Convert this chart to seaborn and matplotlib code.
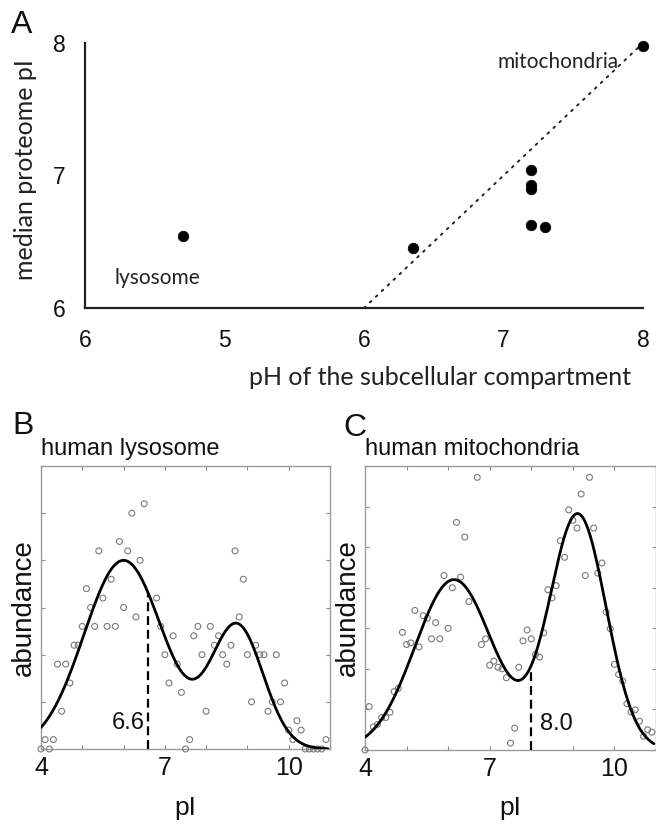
import numpy as np
import pandas as pd
import matplotlib
matplotlib.use("Agg")
import matplotlib.pyplot as plt
import seaborn as sns

sns.set_theme(style="white")
plt.rcParams['font.family'] = ['Liberation Sans', 'DejaVu Sans']

# ---------------- Panel A data ----------------
ph_values = [4.70, 6.35, 7.20, 7.20, 7.20, 7.20, 7.30, 8.00]
median_pi = [6.54, 6.45, 7.04, 6.93, 6.90, 6.63, 6.61, 7.98]
diag_x = [6.0, 8.0]
diag_y = [6.0, 8.0]
a_xticks = [4, 5, 6, 7, 8]
a_xticklabels = ["6", "5", "6", "7", "8"]
a_yticks = [6, 7, 8]
a_yticklabels = ["6", "7", "8"]

# ---------------- Panel B data (human lysosome) ----------------
lyso_pi = [4.0, 4.1, 4.2, 4.3, 4.4, 4.5, 4.6, 4.7, 4.8, 4.9, 5.0, 5.1, 5.2, 5.3,
           5.4, 5.5, 5.6, 5.7, 5.8, 5.9, 6.0, 6.1, 6.2, 6.3, 6.4, 6.5, 6.8, 6.9,
           7.0, 7.1, 7.2, 7.3, 7.4, 7.5, 7.6, 7.7, 7.8, 7.9, 8.0, 8.1, 8.2, 8.3,
           8.4, 8.5, 8.6, 8.7, 8.8, 8.9, 9.0, 9.1, 9.2, 9.3, 9.4, 9.5, 9.6, 9.7,
           9.8, 9.9, 10.0, 10.1, 10.2, 10.3, 10.4, 10.5, 10.6, 10.7, 10.8, 10.9]
lyso_abund = [0.0, 0.2, 0.0, 0.2, 1.8, 0.8, 1.8, 1.4, 2.2, 2.2, 2.6, 3.4, 3.0, 2.6,
              4.2, 3.2, 2.6, 3.6, 2.6, 4.4, 3.0, 4.2, 5.0, 2.8, 4.0, 5.2, 3.2, 2.6,
              2.0, 1.4, 2.4, 1.8, 1.2, 0.0, 0.2, 2.4, 2.6, 2.0, 0.8, 2.6, 2.2, 2.4,
              2.0, 1.8, 2.2, 4.2, 2.8, 3.6, 2.0, 1.0, 2.2, 2.0, 2.0, 0.8, 1.0, 2.0,
              1.0, 1.4, 0.4, 0.2, 0.6, 0.4, 0.0, 0.0, 0.0, 0.0, 0.0, 0.2]
# two-peak fit: centres, heights, widths
lyso_fit_centers = [6.0, 8.75]
lyso_fit_heights = [4.0, 2.6]
lyso_fit_widths = [0.96, 0.63]
lyso_median = 6.6
lyso_label = "6.6"

# ---------------- Panel C data (human mitochondria) ----------------
mito_pi = [4.0, 4.1, 4.2, 4.3, 4.4, 4.5, 4.6, 4.7, 4.8, 4.9, 5.0, 5.1, 5.2, 5.3,
           5.4, 5.5, 5.6, 5.7, 5.8, 5.9, 6.0, 6.1, 6.2, 6.3, 6.4, 6.5, 6.7, 6.8,
           6.9, 7.0, 7.1, 7.2, 7.3, 7.4, 7.5, 7.6, 7.7, 7.8, 7.9, 8.0, 8.1, 8.2,
           8.3, 8.4, 8.5, 8.6, 8.7, 8.8, 8.9, 9.0, 9.1, 9.2, 9.3, 9.4, 9.5, 9.6,
           9.7, 9.8, 9.9, 10.0, 10.1, 10.2, 10.3, 10.4, 10.5, 10.6, 10.7, 10.8, 10.9]
mito_abund = [0.0, 1.07, 0.57, 0.63, 0.80, 0.80, 0.93, 1.44, 1.52, 2.90, 2.60, 2.64,
              3.44, 2.54, 3.31, 3.25, 2.74, 3.14, 2.74, 4.30, 3.00, 4.00, 5.61, 4.26,
              5.25, 3.66, 6.72, 2.60, 2.74, 2.09, 2.19, 2.04, 2.00, 1.78, 0.17, 0.54,
              2.04, 2.69, 2.96, 2.74, 2.35, 2.29, 2.89, 3.95, 3.75, 4.05, 5.16, 4.75,
              5.92, 5.66, 5.47, 6.31, 4.30, 6.72, 5.47, 4.36, 4.61, 3.40, 2.99, 2.11,
              1.86, 1.70, 1.14, 0.94, 0.99, 0.71, 0.34, 0.50, 0.44]
mito_fit_centers = [6.14, 9.12]
mito_fit_heights = [4.2, 5.8]
mito_fit_widths = [0.94, 0.68]
mito_median = 8.0
mito_label = "8.0"

pi_ticks = [4, 5, 6, 7, 8, 9, 10, 11]
pi_ticklabels = ["4", "", "", "7", "", "", "10", ""]

W, H = 656, 825
fig = plt.figure(figsize=(W / 100, H / 100), dpi=100)


def rect(left, top, right, bottom):
    return [left / W, 1 - bottom / H, (right - left) / W, (bottom - top) / H]


def fpos(x, y):
    return x / W, 1 - y / H


calibri_like = ['Lato', 'DejaVu Sans']

# ---------------- Panel A ----------------
axA = fig.add_axes(rect(85, 43, 643, 308))
dfA = pd.DataFrame({"ph": ph_values, "pi": median_pi})
sns.lineplot(x=diag_x, y=diag_y, ax=axA, color="#222222", lw=1.4,
             linestyle=(0, (1, 3.2)), dash_capstyle="round")
sns.scatterplot(data=dfA, x="ph", y="pi", ax=axA, s=58, color="black",
                edgecolor="black", linewidth=0.5, clip_on=False, zorder=5)
axA.set_xlim(4, 8)
axA.set_ylim(6, 8)
for side in ["top", "right"]:
    axA.spines[side].set_visible(False)
for side in ["left", "bottom"]:
    axA.spines[side].set_color("#222222")
    axA.spines[side].set_linewidth(1.6)
axA.set_xticks(a_xticks)
axA.set_xticklabels(a_xticklabels)
axA.set_yticks(a_yticks)
axA.set_yticklabels(a_yticklabels)
axA.tick_params(axis="both", direction="out", length=3, width=1.2,
                color="#222222", labelsize=16.5, labelcolor="#111111")
axA.tick_params(axis="x", pad=12)
axA.tick_params(axis="y", pad=11)
axA.set_xlabel("")
axA.set_ylabel("")
axA.text(7.39, 7.86, "mitochondria", ha="center", va="center",
         fontsize=15, family=calibri_like, color="#222222")
axA.text(4.52, 6.23, "lysosome", ha="center", va="center",
         fontsize=15, family=calibri_like, color="#222222")
fig.text(*fpos(440, 377), "pH of the subcellular compartment", ha="center",
         va="center", fontsize=18, family=calibri_like, color="#222222")
fig.text(*fpos(26, 170), "median proteome pI", ha="center", va="center",
         rotation=90, fontsize=18, family=calibri_like, color="#222222")
fig.text(*fpos(22, 25), "A", ha="center", va="center", fontsize=23,
         color="#111111")


# ---------------- Panels B and C ----------------
def fit_curve(xs, centers, heights, widths):
    ys = np.zeros_like(xs)
    for c, h, w in zip(centers, heights, widths):
        ys = ys + h * np.exp(-(xs - c) ** 2 / (2 * w ** 2))
    return ys


def draw_panel(ax, xs, ys, centers, heights, widths, median, label,
               ymax, title, label_side):
    grid = np.linspace(4, 10.95, 300)
    curve = fit_curve(grid, centers, heights, widths)
    df_pts = pd.DataFrame({"pI": xs, "abundance": ys})
    sns.scatterplot(data=df_pts, x="pI", y="abundance", ax=ax, s=18,
                    facecolor="none", edgecolor="#7a7a7a", linewidth=0.8,
                    clip_on=False, zorder=3)
    sns.lineplot(x=grid, y=curve, ax=ax, color="black", lw=2.0, zorder=4)
    top = fit_curve(np.array([median]), centers, heights, widths)[0]
    ax.plot([median, median], [0, top], color="black", lw=1.6,
            linestyle=(0, (4, 2.2)), zorder=4)
    if label_side == "left":
        ax.text(median - 0.08, 0.55, label, ha="right", va="center",
                fontsize=17, color="#111111")
    else:
        ax.text(median + 0.22, 0.55 * ymax / 6, label, ha="left",
                va="center", fontsize=17, color="#111111")
    ax.set_xlim(4, 11)
    ax.set_ylim(0, ymax)
    ax.set_xticks(pi_ticks)
    ax.set_xticklabels(pi_ticklabels)
    ax.set_yticks(list(range(0, ymax + 1)))
    ax.set_yticklabels([])
    ax.tick_params(axis="both", direction="in", length=3, width=0.8,
                   color="#8a8a8a", top=True, right=True, left=True,
                   bottom=True, labelsize=18, labelcolor="#111111", pad=5)
    for side in ["top", "right", "left", "bottom"]:
        ax.spines[side].set_visible(True)
        ax.spines[side].set_color("#9a9a9a")
        ax.spines[side].set_linewidth(1.0)
    ax.set_xlabel("")
    ax.set_ylabel("")
    ax.text(0.0, 1.02, title, transform=ax.transAxes, ha="left",
            va="bottom", fontsize=17, color="#111111")


axB = fig.add_axes(rect(41, 466, 330, 749))
draw_panel(axB, lyso_pi, lyso_abund, lyso_fit_centers, lyso_fit_heights,
           lyso_fit_widths, lyso_median, lyso_label, 6, "human lysosome",
           "left")
axC = fig.add_axes(rect(365, 466, 656, 750))
draw_panel(axC, mito_pi, mito_abund, mito_fit_centers, mito_fit_heights,
           mito_fit_widths, mito_median, mito_label, 7, "human mitochondria",
           "right")

fig.text(*fpos(24, 608), "abundance", ha="center", va="center", rotation=90,
         fontsize=20, color="#111111")
fig.text(*fpos(348, 608), "abundance", ha="center", va="center", rotation=90,
         fontsize=20, color="#111111")
fig.text(*fpos(185, 808), "pI", ha="center", va="center", fontsize=19,
         color="#111111")
fig.text(*fpos(510, 808), "pI", ha="center", va="center", fontsize=19,
         color="#111111")
fig.text(*fpos(23, 426), "B", ha="center", va="center", fontsize=23,
         color="#111111")
fig.text(*fpos(355, 428), "C", ha="center", va="center", fontsize=23,
         color="#111111")

fig.savefig("out.png", dpi=100)
